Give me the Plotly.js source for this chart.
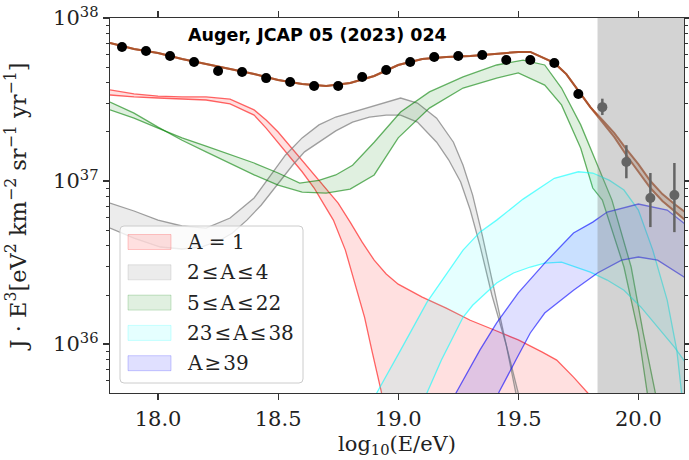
<!DOCTYPE html>
<html><head><meta charset="utf-8">
<script src="https://cdn.plot.ly/plotly-3.0.1.min.js"></script>
<style>html,body{margin:0;padding:0;background:#fff}#chart{width:689px;height:460px}</style>
</head><body><div id="chart"></div>
<script>
// ---------- data (log10(E/eV), J*E^3 in eV^2 km^-2 sr^-1 yr^-1) ----------
const dataX = [17.85,17.95,18.05,18.15,18.25,18.35,18.45,18.55,18.65,18.75,18.85,18.95,19.05,19.15,19.25,19.35,19.45,19.55,19.65,19.75];
const dataY = [6.64e37,6.27e37,5.85e37,5.37e37,4.73e37,4.66e37,4.28e37,4.05e37,3.83e37,3.83e37,4.35e37,4.80e37,5.37e37,5.76e37,5.85e37,5.93e37,5.52e37,5.52e37,5.30e37,3.42e37];

const hiEX = [19.85,19.95,20.05,20.15];
const hiEY = [2.84e37,1.31e37,7.87e36,8.20e36];
const hiEUp = [3.20e37,1.66e37,1.12e37,1.29e37];
const hiELo = [2.54e37,1.04e37,5.22e36,4.86e36];

const cutE = 19.83;  // start of the shaded region

const fitX = [17.8,17.9,18.0,18.1,18.2,18.3,18.4,18.5,18.6,18.7,18.8,18.9,19.0,19.1,19.2,19.3,19.4,19.5,19.55,19.6,19.65,19.7,19.75,19.8,19.85,19.9,19.95,20.0,20.05,20.1,20.15,20.2];
const fitHi = [7.02e37,6.45e37,6.10e37,5.60e37,5.22e37,4.86e37,4.53e37,4.17e37,3.94e37,3.83e37,3.99e37,4.41e37,5.15e37,5.60e37,5.76e37,5.85e37,6.01e37,6.19e37,6.19e37,5.76e37,5.30e37,4.53e37,3.57e37,2.84e37,2.37e37,1.97e37,1.57e37,1.27e37,1.00e37,8.32e36,7.23e36,6.36e36];
const fitLo = [7.02e37,6.45e37,6.10e37,5.60e37,5.22e37,4.86e37,4.53e37,4.17e37,3.94e37,3.83e37,3.99e37,4.41e37,5.15e37,5.60e37,5.76e37,5.85e37,6.01e37,6.19e37,6.19e37,5.76e37,5.30e37,4.53e37,3.57e37,2.84e37,2.30e37,1.86e37,1.44e37,1.14e37,9.06e36,7.54e36,6.55e36,5.68e36];

// A = 1
const redXHi = [17.8,17.9,18.0,18.1,18.2,18.3,18.4,18.45,18.5,18.55,18.6,18.65,18.7,18.75,18.8,18.85,18.9,18.95,19.0,19.1,19.2,19.3,19.4,19.5,19.6,19.66,19.73,19.79,19.82];
const redYHi = [3.62e37,3.42e37,3.32e37,3.28e37,3.28e37,3.18e37,2.73e37,2.37e37,2.00e37,1.64e37,1.35e37,1.10e37,9.06e36,7.33e36,5.60e36,4.22e36,3.27e36,2.69e36,2.33e36,1.94e36,1.66e36,1.40e36,1.22e36,1.06e36,8.93e35,7.98e35,6.27e35,5.00e35,3.94e35];
const redXLo = [17.8,17.9,18.0,18.1,18.2,18.3,18.4,18.45,18.5,18.55,18.6,18.65,18.68,18.73,18.78,18.82,18.86,18.89,18.93,18.94];
const redYLo = [3.37e37,3.28e37,3.23e37,3.18e37,3.14e37,2.97e37,2.54e37,2.11e37,1.73e37,1.40e37,1.14e37,9.06e36,7.64e36,5.76e36,3.77e36,2.37e36,1.46e36,9.19e35,5.08e35,3.42e35];

// 2 <= A <= 4
const grayXHi = [17.8,17.9,18.0,18.1,18.2,18.3,18.4,18.47,18.53,18.6,18.67,18.74,18.81,18.88,18.95,19.01,19.08,19.16,19.23,19.27,19.31,19.35,19.4,19.45,19.5,19.53];
const grayYHi = [7.33e36,6.55e36,5.76e36,5.30e36,5.15e36,5.93e36,7.87e36,1.09e37,1.44e37,1.84e37,2.21e37,2.47e37,2.65e37,2.84e37,3.05e37,3.23e37,3.01e37,2.43e37,1.73e37,1.25e37,8.20e36,4.66e36,2.14e36,9.86e35,5.00e35,3.42e35];
const grayXLo = [17.8,17.9,18.01,18.1,18.18,18.26,18.31,18.37,18.43,18.5,18.56,18.61,18.67,18.74,18.81,18.88,18.95,19.01,19.08,19.16,19.21,19.26,19.3,19.34,19.39,19.45,19.49,19.52];
const grayYLo = [5.15e36,4.47e36,3.94e36,3.83e36,3.94e36,4.35e36,4.80e36,5.76e36,7.13e36,9.58e36,1.25e37,1.51e37,1.73e37,2.03e37,2.30e37,2.47e37,2.54e37,2.54e37,2.30e37,1.73e37,1.35e37,9.86e36,6.64e36,4.05e36,2.00e36,9.86e35,5.00e35,3.42e35];

// 5 <= A <= 22
const greenXA = [17.8,17.9,18.0,18.1,18.2,18.3,18.4,18.5,18.6,18.7,18.8,18.9,19.0,19.13,19.27,19.41,19.5,19.61,19.68,19.76,19.81,19.85,19.94,20.0,20.04,20.06];
const greenYA = [3.05e37,2.61e37,2.14e37,1.78e37,1.51e37,1.29e37,1.09e37,9.45e36,8.56e36,8.44e36,8.93e36,1.09e37,1.84e37,2.80e37,3.72e37,4.28e37,4.60e37,3.88e37,2.93e37,1.59e37,9.06e36,7.64e36,2.97e36,1.17e36,5.08e35,2.97e35];
const greenXB = [17.8,17.9,18.0,18.1,18.2,18.3,18.4,18.5,18.59,18.67,18.74,18.81,18.9,19.01,19.13,19.27,19.41,19.52,19.61,19.68,19.76,19.83,19.89,19.97,20.02,20.07,20.1];
const greenYB = [2.73e37,2.43e37,2.11e37,1.84e37,1.64e37,1.46e37,1.29e37,1.12e37,9.72e36,1.01e37,1.09e37,1.25e37,1.73e37,2.65e37,3.52e37,4.35e37,5.15e37,5.52e37,5.15e37,3.72e37,2.21e37,1.25e37,7.64e36,2.97e36,1.17e36,5.08e35,2.97e35];

// 23 <= A <= 38
const cyanXHi = [18.86,18.91,19.01,19.12,19.27,19.34,19.41,19.52,19.65,19.75,19.81,19.88,19.94,20.0,20.06,20.12,20.16,20.18,20.2];
const cyanYHi = [3.42e35,5.00e35,9.19e35,1.81e36,3.77e36,4.86e36,5.76e36,7.75e36,1.04e37,1.14e37,1.12e37,1.01e37,8.81e36,6.64e36,3.77e36,1.86e36,9.19e35,5.00e35,3.42e35];
const cyanXLo = [19.07,19.12,19.18,19.27,19.31,19.41,19.48,19.55,19.61,19.68,19.73,19.8,19.87,19.94,20.01,20.08,20.15,20.21];
const cyanYLo = [3.42e35,5.00e35,7.98e35,1.46e36,1.73e36,2.37e36,2.73e36,2.97e36,3.14e36,3.18e36,3.01e36,2.76e36,2.47e36,2.14e36,1.69e36,1.27e36,9.58e35,7.23e35];

// A >= 39
const blueXHi = [19.18,19.24,19.34,19.41,19.5,19.61,19.73,19.81,19.87,20.0,20.12,20.21];
const blueYHi = [2.97e35,5.00e35,9.19e35,1.35e36,2.06e36,3.14e36,4.80e36,5.60e36,6.45e36,7.23e36,6.64e36,5.22e36];
const blueXLo = [19.36,19.42,19.49,19.55,19.61,19.73,19.83,19.93,20.0,20.08,20.21];
const blueYLo = [2.97e35,5.08e35,7.98e35,1.17e36,1.55e36,2.14e36,2.73e36,3.27e36,3.42e36,3.27e36,2.47e36];

const groupNames = ['A = 1','2\u200a\u2264\u200aA\u200a\u2264\u200a4','5\u200a\u2264\u200aA\u200a\u2264\u200a22','23\u200a\u2264\u200aA\u200a\u2264\u200a38','A\u200a\u2265\u200a39'];
const xTickVals = [18.0,18.5,19.0,19.5,20.0];
const yTickExp = [36,37,38];
const titleText = '<b>Auger, JCAP 05 (2023) 024</b>';

// ---------- styles ----------
const fills = ['rgba(255,0,0,0.12)','rgba(128,128,128,0.15)','rgba(0,128,0,0.12)','rgba(0,255,255,0.10)','rgba(0,0,255,0.12)'];
const edges = ['rgba(255,0,0,0.6)','rgba(128,128,128,0.75)','rgba(0,128,0,0.6)','rgba(0,255,255,0.6)','rgba(0,0,255,0.6)'];
const bands = [
  [redXHi,redYHi,redXLo,redYLo],
  [grayXHi,grayYHi,grayXLo,grayYLo],
  [greenXA,greenYA,greenXB,greenYB],
  [cyanXHi,cyanYHi,cyanXLo,cyanYLo],
  [blueXHi,blueYHi,blueXLo,blueYLo]
];

const traces = [];
bands.forEach((b,i)=>{
  traces.push({x:b[0].concat(b[2].slice().reverse()), y:b[1].concat(b[3].slice().reverse()),
    mode:'lines', fill:'toself', fillcolor:fills[i], line:{width:0}, hoverinfo:'skip', showlegend:false});
  traces.push({x:b[0], y:b[1], mode:'lines', line:{color:edges[i], width:1.3}, hoverinfo:'skip', showlegend:false});
  traces.push({x:b[2], y:b[3], mode:'lines', line:{color:edges[i], width:1.3}, hoverinfo:'skip', showlegend:false});
});
// total fit band
traces.push({x:fitX.concat(fitX.slice().reverse()), y:fitHi.concat(fitLo.slice().reverse()), mode:'lines',
  fill:'toself', fillcolor:'rgba(160,82,45,0.25)', line:{width:0}, hoverinfo:'skip', showlegend:false});
traces.push({x:fitX, y:fitHi, mode:'lines', line:{color:'rgba(170,80,40,0.85)', width:2}, showlegend:false});
traces.push({x:fitX, y:fitLo, mode:'lines', line:{color:'rgba(170,80,40,0.85)', width:2}, showlegend:false});
// data
traces.push({x:dataX, y:dataY, mode:'markers', marker:{color:'#000', size:10}, showlegend:false});
traces.push({x:hiEX, y:hiEY, mode:'markers', marker:{color:'#555', size:10}, showlegend:false,
  error_y:{type:'data', symmetric:false, array:hiEUp.map((v,i)=>v-hiEY[i]), arrayminus:hiEY.map((v,i)=>v-hiELo[i]),
    color:'#555', thickness:2.5, width:0}});

// ---------- layout helpers ----------
const L=110, R=5, T=18, B=67, W=689, H=460;
const pw=W-L-R, ph=H-T-B;
const px=(v)=>(v-L)/pw, py=(v)=>(H-B-v)/ph;

const minorVals=[];
for(let e=35;e<=37;e++) for(let k=2;k<=9;k++) minorVals.push(k*Math.pow(10,e));

const shapes=[{type:'rect', xref:'x', yref:'paper', x0:cutE, x1:20.19, y0:0, y1:1,
  fillcolor:'rgba(128,128,128,0.35)', line:{width:0}, layer:'above'}];
// legend box with rounded corners
(function(){
  const x0=px(120),x1=px(303),y0=py(383),y1=py(226),rx=4/pw,ry=4/ph;
  const p=`M${x0+rx},${y1} L${x1-rx},${y1} Q${x1},${y1} ${x1},${y1-ry} L${x1},${y0+ry} Q${x1},${y0} ${x1-rx},${y0} L${x0+rx},${y0} Q${x0},${y0} ${x0},${y0+ry} L${x0},${y1-ry} Q${x0},${y1} ${x0+rx},${y1} Z`;
  shapes.push({type:'path', xref:'paper', yref:'paper', path:p, fillcolor:'rgba(255,255,255,0.8)', line:{color:'#cccccc', width:1}, layer:'above'});
})();
const annotations=[{xref:'paper', yref:'paper', x:px(317), y:py(35), text:titleText, showarrow:false,
  xanchor:'center', yanchor:'middle', font:{family:'DejaVu Sans, sans-serif', size:17.5, color:'#000'}}];
groupNames.forEach((n,i)=>{
  const cy=242+i*30.3;
  shapes.push({type:'rect', xref:'paper', yref:'paper', x0:px(128), x1:px(171), y0:py(cy+7.5), y1:py(cy-7.5),
    fillcolor:fills[i], line:{color:fills[i].replace(/[\d.]+\)$/,'0.2)'), width:1}, layer:'above'});
  annotations.push({xref:'paper', yref:'paper', x:px(185), y:py(cy), text:n, showarrow:false, xanchor:'left', yanchor:'middle',
    font:{family:'DejaVu Serif, serif', size:20, color:'#222'}});
});

const axFont={family:'DejaVu Serif, serif', size:21, color:'#222'};
const layout={
  width:W, height:H, margin:{l:L, r:R, t:T, b:B, pad:0},
  paper_bgcolor:'#fff', plot_bgcolor:'#fff', showlegend:false,
  xaxis:{range:[17.8,20.19], tickmode:'array', tickvals:xTickVals, ticktext:xTickVals.map(v=>v.toFixed(1)), ticks:'outside', ticklen:6, tickwidth:1.2,
    tickcolor:'#333', showline:true, linecolor:'#333', linewidth:1.3, mirror:'ticks', showgrid:false, zeroline:false,
    tickfont:axFont, title:{text:'log<sub>10</sub>(E/eV)', font:axFont, standoff:6}},
  yaxis:{type:'log', range:[35.7,38.0], tickmode:'array', tickvals:yTickExp.map(e=>Math.pow(10,e)),
    ticktext:yTickExp.map(e=>'10<sup>'+e+'</sup>'), ticks:'outside', ticklen:6, tickwidth:1.2,
    tickcolor:'#333', showline:true, linecolor:'#333', linewidth:1.3, mirror:'ticks', showgrid:false, zeroline:false,
    tickfont:axFont,
    minor:{tickmode:'array', tickvals:minorVals, ticks:'outside', ticklen:3, tickwidth:1, tickcolor:'#333', showgrid:false},
    title:{text:'J \u00b7 E<sup>3</sup>[eV<sup>2</sup> km<sup>\u22122</sup> sr<sup>\u22121</sup> yr<sup>\u22121</sup>]', font:{family:'DejaVu Serif, serif', size:22.5, color:'#222'}, standoff:20}},
  shapes:shapes, annotations:annotations
};
Plotly.newPlot('chart', traces, layout, {staticPlot:true, displayModeBar:false});
</script></body></html>
